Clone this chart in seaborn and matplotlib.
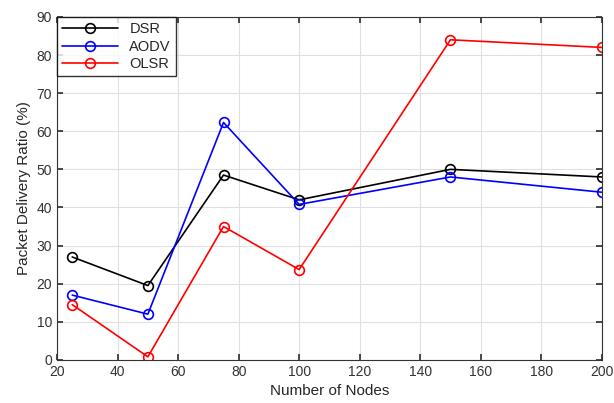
import pandas as pd
import matplotlib.pyplot as plt
import seaborn as sns

sns.set_theme(style="whitegrid")
plt.rcParams['font.family'] = ['Liberation Sans', 'DejaVu Sans']

# data
nodes = [25, 50, 75, 100, 150, 200]
dsr = [27, 19.5, 48.5, 42, 50, 48]
aodv = [17, 12, 62.3, 40.8, 48, 44]
olsr = [14.5, 0.8, 35, 23.7, 84, 82]
protocols = ['DSR', 'AODV', 'OLSR']
colors = {'DSR': 'black', 'AODV': '#0000ff', 'OLSR': '#ff0000'}

df = pd.DataFrame({
    'Nodes': nodes * 3,
    'PDR': dsr + aodv + olsr,
    'Protocol': ['DSR'] * 6 + ['AODV'] * 6 + ['OLSR'] * 6,
})

fig = plt.figure(figsize=(6.14, 4.03), dpi=100)
ax = fig.add_axes([0.093, 0.107, 0.887, 0.851])

sns.lineplot(data=df, x='Nodes', y='PDR', hue='Protocol', hue_order=protocols,
             palette=colors, marker='o', markersize=7, markerfacecolor='none',
             markeredgewidth=1.2, linewidth=1.2, ax=ax)

# I fix marker edge colors
for line, p in zip(ax.lines, protocols):
    line.set_markeredgecolor(colors[p])

ax.set_xlim(20, 200)
ax.set_ylim(0, 90)
ax.set_xticks(range(20, 201, 20))
ax.set_yticks(range(0, 91, 10))
ax.set_xlabel('Number of Nodes', fontsize=11)
ax.set_ylabel('Packet Delivery Ratio (%)', fontsize=11)
ax.tick_params(labelsize=10, direction='in', length=4, colors='#333333',
               top=True, right=True, bottom=True, left=True)
ax.set_facecolor('white')
ax.grid(True, color='#e0e0e0', linewidth=0.8)
for s in ax.spines.values():
    s.set_color('#333333')
    s.set_linewidth(0.8)

leg = ax.legend(loc='upper left', fontsize=10.5, frameon=True, fancybox=False,
                edgecolor='black', borderaxespad=0.0, handlelength=3.8,
                borderpad=0.35, labelspacing=0.25, title=None)
leg.get_frame().set_linewidth(1.0)
for h, p in zip(leg.get_lines(), protocols):
    h.set_markerfacecolor('none')
    h.set_markeredgecolor(colors[p])

fig.savefig('out.png', dpi=100)
